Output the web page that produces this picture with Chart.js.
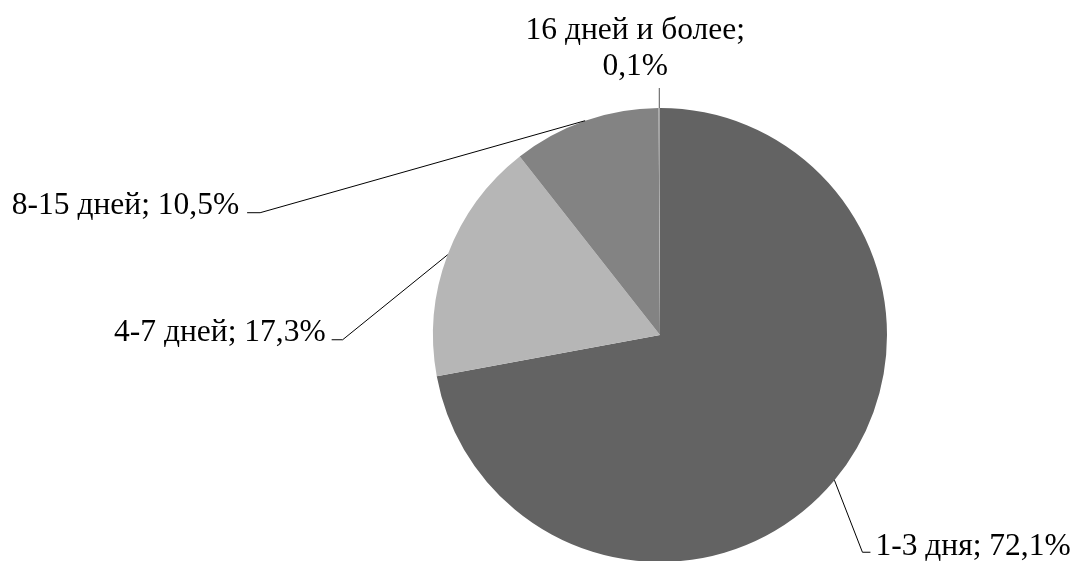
<!DOCTYPE html>
<html>
<head>
<meta charset="utf-8">
<script src="https://cdn.jsdelivr.net/npm/chart.js@4"></script>
<style>
  html, body { margin: 0; padding: 0; background: #fff; overflow: hidden; }
  #wrap { position: relative; width: 1079px; height: 600px; }
  #warm { position: absolute; left: -9999px; font: 31.5px "Liberation Serif"; }
</style>
</head>
<body>
<span id="warm">8-15 дней; 10,5%</span>
<div id="wrap"><canvas id="pie"></canvas></div>
<script>
/* Duration distribution pie */

const LABELS = ['1-3 дня', '4-7 дней', '8-15 дней', '16 дней и более'];
const VALUES = [72.1, 17.3, 10.5, 0.1];
const COLORS = ['#636363', '#b6b6b6', '#838383', '#a3a3a3'];

// leader geometry per slice: elbow offset from slice edge, tail length, label placement
const LEADERS = [
  { dx: 28,   dy: 72,  tail: 8,   gap: 5, align: 'left',   shift: 3 },
  { dx: -105, dy: 85,  tail: -11, gap: 6, align: 'right',  shift: 1 },
  { dx: -325, dy: 92,  tail: -13, gap: 8, align: 'right',  shift: 1 },
  { dx: 0,    dy: -20, tail: 0,   gap: 0, align: 'center', shift: 0 },
];

const FONT = '31.5px "Liberation Serif", serif';

const fmt = v => v.toFixed(1).replace('.', ',') + '%';

/* ─── Leader lines + labels ─── */
const leaderLabels = {
  id: 'leaderLabels',
  afterDraw(chart) {
    const ctx = chart.ctx;
    const arcs = chart.getDatasetMeta(0).data;
    ctx.save();
    ctx.lineWidth = 1;
    arcs.forEach((arc, i) => {
      const p = arc.getProps(['x', 'y', 'startAngle', 'endAngle', 'outerRadius'], true);
      const mid = (p.startAngle + p.endAngle) / 2;
      const ex = p.x + Math.cos(mid) * p.outerRadius;
      const ey = p.y + Math.sin(mid) * p.outerRadius;
      const L = LEADERS[i];
      const bx = ex + L.dx, by = ey + L.dy;
      const tx = bx + L.tail;

      ctx.beginPath();
      ctx.moveTo(ex, ey);
      ctx.lineTo(bx, by);
      if (L.tail) ctx.lineTo(tx, by);
      ctx.strokeStyle = L.align === 'center' ? '#555' : '#000';
      ctx.stroke();

      ctx.font = FONT;
      ctx.fillStyle = '#000';
      ctx.textBaseline = 'alphabetic';
      if (L.align === 'center') {
        ctx.textAlign = 'center';
        const cx = bx - 24;
        ctx.fillText(LABELS[i] + ';', cx, by - 49);
        ctx.fillText(fmt(VALUES[i]), cx, by - 13);
      } else {
        ctx.textAlign = L.align;
        const x = L.align === 'left' ? tx + L.gap : tx - L.gap;
        ctx.fillText(LABELS[i] + '; ' + fmt(VALUES[i]), x, by + L.shift);
      }
    });
    ctx.restore();
  }
};

function build() {
  new Chart(document.getElementById('pie'), {
    type: 'pie',
    data: {
      labels: LABELS,
      datasets: [{
        data: VALUES,
        backgroundColor: COLORS,
        borderWidth: 0,
      }]
    },
    options: {
      responsive: true,
      maintainAspectRatio: false,
      animation: false,
      layout: { padding: { left: 433, right: 192, top: 108, bottom: 38 } },
      plugins: { legend: { display: false }, tooltip: { enabled: false } },
    },
    plugins: [leaderLabels]
  });
}

if (document.fonts && document.fonts.load) {
  document.fonts.load('31.5px "Liberation Serif"').then(build, build);
} else {
  build();
}
</script>
</body>
</html>
